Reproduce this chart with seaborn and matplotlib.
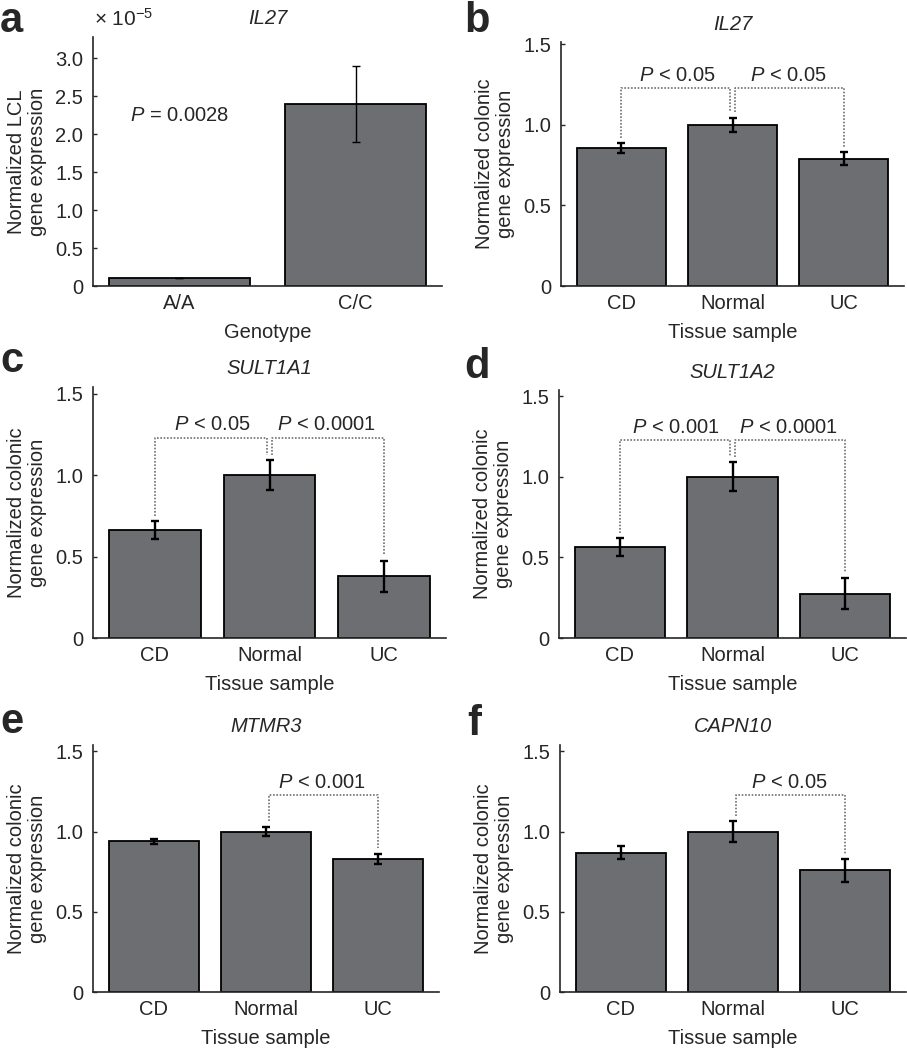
import pandas as pd
import seaborn as sns
from matplotlib import pyplot as plt
from matplotlib.ticker import FuncFormatter

# panel a: LCL expression by genotype (values in units of 1e-5)
genotypes = ["A/A", "C/C"]
lcl_mean = [0.11, 2.40]
lcl_err = [0.0, 0.50]

# panels b-f: colonic expression by tissue sample
tissues = ["CD", "Normal", "UC"]
il27_mean = [0.855, 1.00, 0.79]
il27_err = [0.03, 0.045, 0.04]
sult1a1_mean = [0.66, 1.00, 0.38]
sult1a1_err = [0.055, 0.09, 0.095]
sult1a2_mean = [0.565, 1.00, 0.275]
sult1a2_err = [0.055, 0.09, 0.095]
mtmr3_mean = [0.94, 1.00, 0.83]
mtmr3_err = [0.017, 0.03, 0.03]
capn10_mean = [0.868, 1.00, 0.758]
capn10_err = [0.04, 0.065, 0.07]

il27_p = [(0, 1, "0.05"), (1, 2, "0.05")]
sult1a1_p = [(0, 1, "0.05"), (1, 2, "0.0001")]
sult1a2_p = [(0, 1, "0.001"), (1, 2, "0.0001")]
mtmr3_p = [(1, 2, "0.001")]
capn10_p = [(1, 2, "0.05")]

BAR_COLOR = "#6d6e71"
W, H = 907, 1050
FS = 14.5

sns.set_theme(style="ticks")
plt.rcParams["font.family"] = ["Liberation Sans", "DejaVu Sans"]
plt.rcParams["mathtext.fontset"] = "custom"
plt.rcParams["mathtext.rm"] = "Liberation Sans"
plt.rcParams["mathtext.it"] = "Liberation Sans:italic"
plt.rcParams["axes.linewidth"] = 1.2

fig = plt.figure(figsize=(W / 100, H / 100), dpi=100)


def make_axes(l, t, r, b):
    return fig.add_axes([l / W, 1 - b / H, (r - l) / W, (b - t) / H])


def fmt_tick(v, _):
    return "0" if abs(v) < 1e-9 else "%.1f" % v


def bar_panel(ax, cats, means, errs, gene, xlabel, ylabel, ymax, yticks,
              thin=False):
    df = pd.DataFrame({"cat": cats, "val": means})
    sns.barplot(data=df, x="cat", y="val", ax=ax, color=BAR_COLOR,
                saturation=1, edgecolor="black", linewidth=1.3,
                width=0.8, errorbar=None)
    lw = 1.0 if thin else 1.7
    ax.errorbar(range(len(cats)), means, yerr=errs, fmt="none",
                ecolor="black", elinewidth=lw, capsize=3, capthick=lw)
    ax.set_ylim(0, ymax)
    ax.set_yticks(yticks)
    ax.yaxis.set_major_formatter(FuncFormatter(fmt_tick))
    ax.tick_params(axis="y", direction="in", length=3, width=1,
                   labelsize=FS, pad=7)
    ax.tick_params(axis="x", length=0, labelsize=FS, pad=6)
    ax.set_xlabel(xlabel, fontsize=FS, labelpad=7)
    ax.set_ylabel(ylabel, fontsize=FS, labelpad=6, linespacing=1.15)
    ax.set_title(gene, style="italic", fontsize=FS, pad=9)
    sns.despine(ax=ax)


def brackets(ax, means, errs, comps, height=1.23, gap=0.035):
    for i, j, p in comps:
        xi = i + (0.025 if i == 1 else 0)
        xj = j - (0.025 if j == 1 else 0)
        yi = means[i] + errs[i] + gap
        yj = means[j] + errs[j] + gap
        ax.plot([xi, xi, xj, xj], [yi, height, height, yj], color="#707070",
                linestyle=(0, (1, 1)), linewidth=1.2)
        ax.text((i + j) / 2, height + 0.045, "$P$ < " + p,
                ha="center", va="baseline", fontsize=FS)


ylab = "Normalized colonic\ngene expression"
ticks15 = [0, 0.5, 1.0, 1.5]

# a
ax = make_axes(93, 37, 442, 286)
bar_panel(ax, genotypes, lcl_mean, lcl_err, "IL27", "Genotype",
          "Normalized LCL\ngene expression", 3.28,
          [0, 0.5, 1.0, 1.5, 2.0, 2.5, 3.0], thin=True)
ax.text(0, 2.17, "$P$ = 0.0028", ha="center", va="baseline", fontsize=FS)
fig.text(94 / W, 1 - 26 / H, r"$\times\ 10^{-5}$", fontsize=15,
         va="baseline")

panels = [
    ((561, 42, 904, 286), il27_mean, il27_err, "IL27", il27_p, 1.515),
    ((93, 387, 446, 638), sult1a1_mean, sult1a1_err, "SULT1A1", sult1a1_p, 1.54),
    ((559, 390, 906, 638), sult1a2_mean, sult1a2_err, "SULT1A2", sult1a2_p, 1.54),
    ((93, 745, 439, 992), mtmr3_mean, mtmr3_err, "MTMR3", mtmr3_p, 1.54),
    ((560, 745, 906, 992), capn10_mean, capn10_err, "CAPN10", capn10_p, 1.54),
]
for rect, means, errs, gene, comps, ymax in panels:
    ax = make_axes(*rect)
    bar_panel(ax, tissues, means, errs, gene, "Tissue sample", ylab,
              ymax, ticks15)
    brackets(ax, means, errs, comps)

# panel letters
for letter, x, y in [("a", 0, 32), ("b", 464, 32), ("c", 0, 372),
                     ("d", 464, 378), ("e", 0, 733), ("f", 467, 735)]:
    fig.text(x / W, 1 - y / H, letter, fontsize=30, fontweight="bold",
             va="baseline", ha="left")

fig.savefig("out.png", dpi=100, facecolor="white")
